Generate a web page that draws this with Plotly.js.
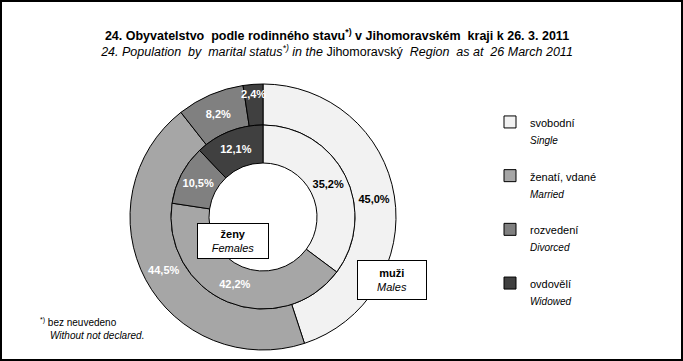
<!DOCTYPE html>
<html>
<head>
<meta charset="utf-8">
<script src="https://cdn.plot.ly/plotly-3.0.1.min.js"></script>
<style>html,body{margin:0;padding:0;background:#fff;}#chart{width:683px;height:361px;}</style>
</head>
<body>
<div id="chart"></div>
<script>
// Data
const categoriesCz = ['svobodní', 'ženatí, vdané', 'rozvedení', 'ovdovělí'];
const categoriesEn = ['Single', 'Married', 'Divorced', 'Widowed'];
const malesValues = [45.0, 44.5, 8.2, 2.4];
const femalesValues = [35.2, 42.2, 10.5, 12.1];
const sliceColors = ['#f2f2f2', '#a6a6a6', '#808080', '#404040'];
const labelColors = ['#000000', '#ffffff', '#ffffff', '#ffffff'];

const W = 683, H = 361;
const px = x => x / W;
const py = y => 1 - y / H;

const labels = categoriesCz.map((c, i) =>
  '<span style="font-size:11px">' + c + '</span><br><span style="font-size:10px"><i>' + categoriesEn[i] + '</i></span><br> ');

const cx = 263, cy = 217, rOut = 133, rMid = 92, rIn = 54;

const common = {
  type: 'pie',
  labels: labels,
  sort: false,
  direction: 'clockwise',
  rotation: 0,
  marker: {colors: sliceColors, line: {color: '#000000', width: 1}},
  texttemplate: '<b>%{value:.1f}%</b>',
  textposition: 'inside',
  insidetextorientation: 'horizontal',
  textfont: {family: 'Liberation Sans, Arial, sans-serif', size: 11, color: labelColors},
  hoverinfo: 'skip'
};

const males = Object.assign({}, common, {
  name: 'muži',
  values: malesValues,
  hole: rMid / rOut,
  domain: {x: [px(cx - rOut), px(cx + rOut)], y: [py(cy + rOut), py(cy - rOut)]}
});
const females = Object.assign({}, common, {
  name: 'ženy',
  values: femalesValues,
  hole: rIn / rMid,
  showlegend: false,
  domain: {x: [px(cx - rMid), px(cx + rMid)], y: [py(cy + rMid), py(cy - rMid)]}
});

const layout = {
  width: W, height: H,
  margin: {l: 0, r: 0, t: 0, b: 0},
  paper_bgcolor: '#ffffff',
  separators: ', ',
  font: {family: 'Liberation Sans, Arial, sans-serif', color: '#000000'},
  uniformtext: {minsize: 11, mode: 'show'},
  title: {
    text: '<b>24. Obyvatelstvo&nbsp; podle rodinného stavu<sup>*)</sup> v Jihomoravském&nbsp; kraji k 26. 3. 2011</b><br>' +
          '<i>24. Population&nbsp; by&nbsp; marital status<sup>*)</sup> in the</i> Jihomoravský&nbsp; <i>Region&nbsp; as at&nbsp; 26 March 2011</i>',
    font: {size: 12.5, family: 'Liberation Sans, Arial, sans-serif', color: '#000000'},
    x: px(337), xanchor: 'center',
    y: py(40), yanchor: 'top', yref: 'paper'
  },
  legend: {
    x: px(490), xanchor: 'left',
    y: py(107), yanchor: 'top',
    font: {size: 13, family: 'Liberation Sans, Arial, sans-serif', color: '#000000'},
    valign: 'top',
    itemwidth: 30,
    bgcolor: 'rgba(0,0,0,0)'
  },
  annotations: [
    {xref: 'paper', yref: 'paper', x: px(233), y: py(241), xanchor: 'center', yanchor: 'middle',
     text: '<b>ženy</b><br><i>Females</i>', showarrow: false,
     font: {size: 11, color: '#000000'}, bgcolor: '#ffffff', bordercolor: '#000000', borderwidth: 1,
     width: 66, height: 30, borderpad: 2},
    {xref: 'paper', yref: 'paper', x: px(392), y: py(280), xanchor: 'center', yanchor: 'middle',
     text: '<b>muži</b><br><i>Males</i>', showarrow: false,
     font: {size: 11, color: '#000000'}, bgcolor: '#ffffff', bordercolor: '#000000', borderwidth: 1,
     width: 64, height: 34, borderpad: 2},
    {xref: 'paper', yref: 'paper', x: px(38), y: py(322), xanchor: 'left', yanchor: 'middle',
     text: '<sup>*)</sup> bez neuvedeno', showarrow: false, font: {size: 10, color: '#000000'}},
    {xref: 'paper', yref: 'paper', x: px(48), y: py(335), xanchor: 'left', yanchor: 'middle',
     text: '<i>Without not declared.</i>', showarrow: false, font: {size: 10, color: '#000000'}}
  ],
  shapes: [
    {type: 'rect', xref: 'paper', yref: 'paper', x0: 0, x1: 1, y0: 0, y1: 1,
     line: {color: '#000000', width: 4}, fillcolor: 'rgba(0,0,0,0)'}
  ]
};

Plotly.newPlot('chart', [males, females], layout, {displayModeBar: false, staticPlot: true});
</script>
</body>
</html>
